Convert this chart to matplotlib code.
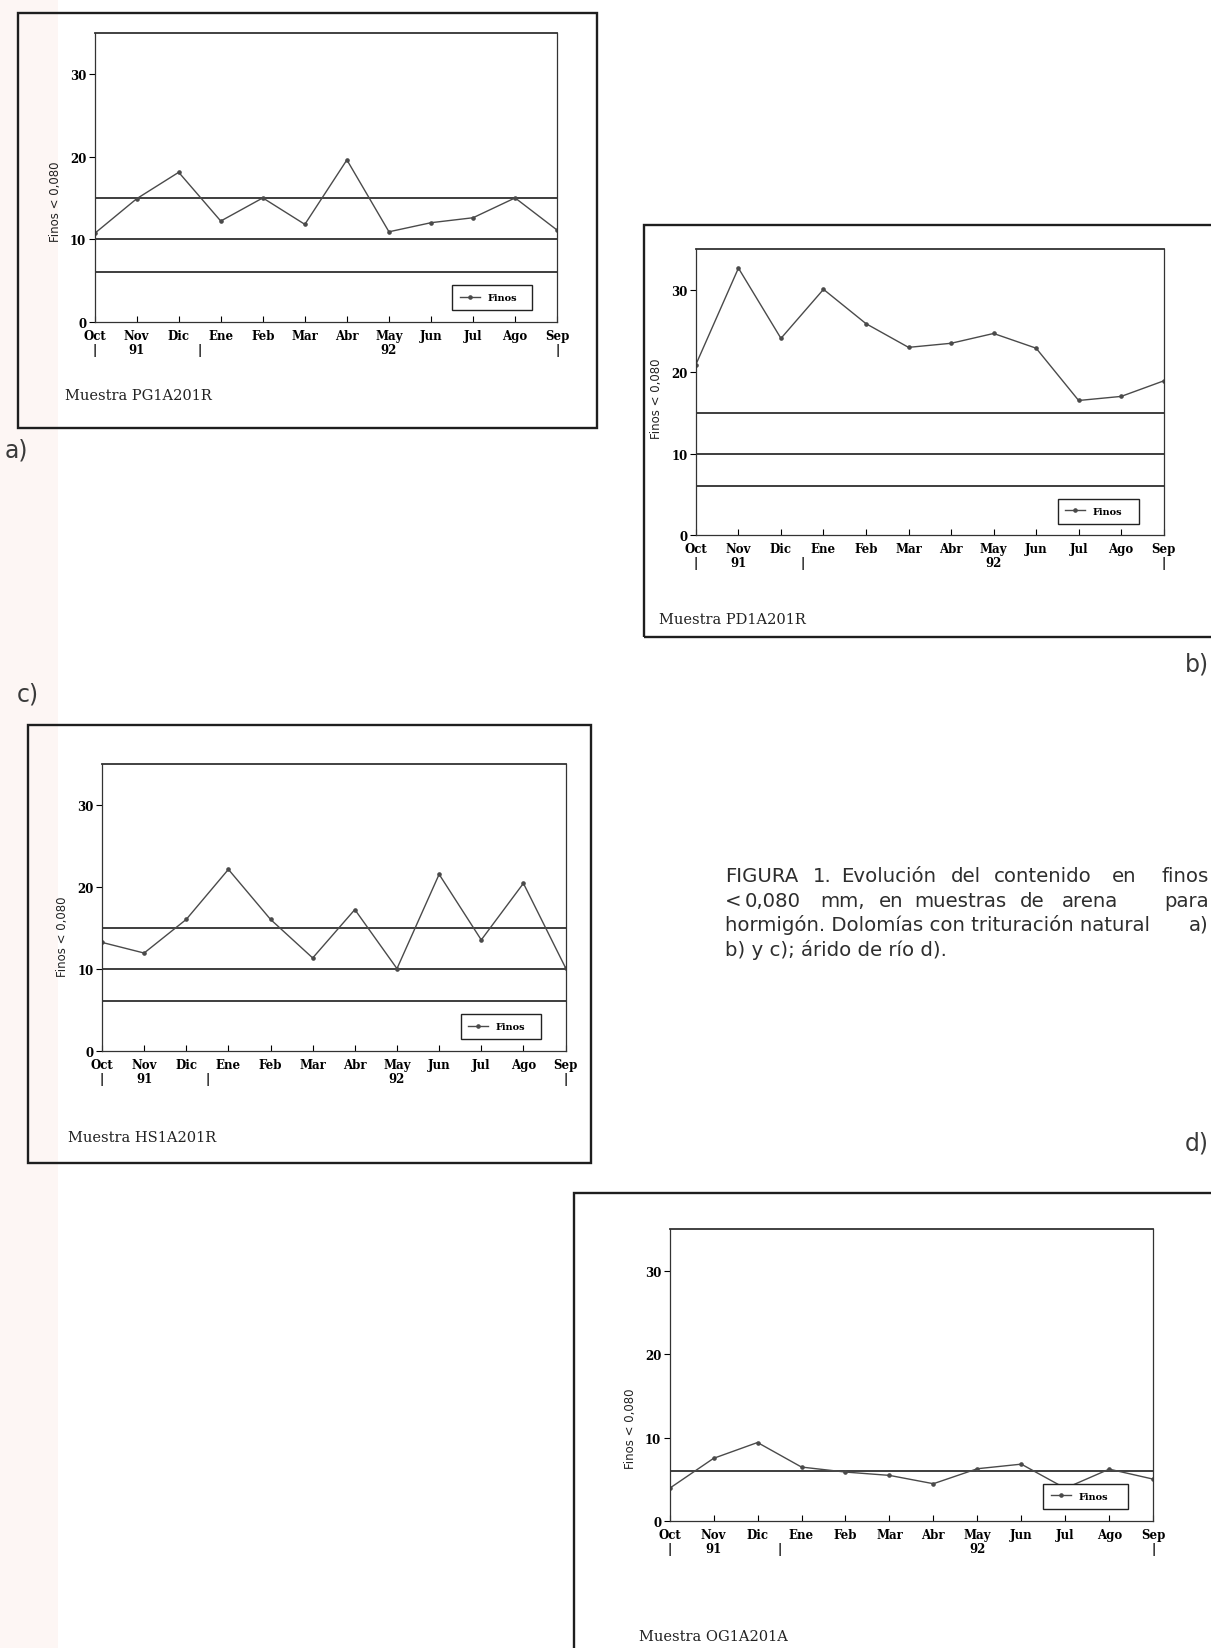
import matplotlib as mpl
from matplotlib import pyplot as plt
from matplotlib.patches import Rectangle
from matplotlib.transforms import ScaledTranslation


months = ["Oct", "Nov", "Dic", "Ene", "Feb", "Mar", "Abr", "May", "Jun", "Jul", "Ago", "Sep"]
second_row = ["|", "91", "", "", "", "", "", "92", "", "", "", "|"]

finos_a = [10.7, 14.9, 18.1, 12.2, 15.0, 11.8, 19.6, 10.9, 12.0, 12.6, 15.0, 11.1]
finos_b = [20.9, 32.7, 24.1, 30.1, 25.9, 23.0, 23.5, 24.7, 22.9, 16.5, 17.0, 18.9]
finos_c = [13.2, 11.9, 16.0, 22.1, 16.0, 11.3, 17.2, 10.0, 21.5, 13.5, 20.4, 10.1]
finos_d = [3.9, 7.5, 9.4, 6.45, 5.85, 5.45, 4.45, 6.25, 6.8, 3.9, 6.2, 5.0]

limits_abc = [15, 10, 6]
limits_d = [6]

muestras = ["Muestra PG1A201R", "Muestra PD1A201R", "Muestra HS1A201R", "Muestra OG1A201A"]

caption_1 = ["FIGURA", "1.", "Evolución", "del", "contenido", "en", "finos"]
caption_2 = ["<", "0,080", "mm,", "en", "muestras", "de", "arena", "para"]
caption_3 = ["hormigón. Dolomías con trituración natural", "a)"]
caption_4 = "b) y c); árido de río d)."

# layout measured on the reference (pixel grid 1152 x 1568)
W, H = 1152.0, 1568.0


def fx(x):
    return x / W


def fy(y):
    return 1 - y / H


serif_bold = dict(family="DejaVu Serif", weight="bold", size=8.5)

fig = plt.figure(figsize=(12.11, 16.49), dpi=100)
fig.patch.set_facecolor("white")

# faint tint along the left margin of the scan
fig.add_artist(Rectangle((0, 0), fx(55), 1, transform=fig.transFigure,
                         fc="#fdf6f4", ec="none", zorder=0))


def panel(frame, axbox, finos, limits, muestra, muestra_xy, ylab_y):
    l, t, r, b = frame
    fig.add_artist(Rectangle((fx(l), fy(b)), fx(r - l), (b - t) / H,
                             transform=fig.transFigure, fill=False,
                             lw=1.7, ec="#1e1e1e", zorder=1))
    al, at, ar, ab = axbox
    ax = fig.add_axes([fx(al), fy(ab), fx(ar - al), (ab - at) / H])
    ax.set_facecolor("none")
    x = list(range(len(months)))
    for v in limits:
        ax.axhline(v, color="#1e1e1e", lw=1.2, zorder=1)
    ax.plot(x, finos, color="#4a4a4a", lw=1.0, marker="o", ms=2.3,
            label="Finos", zorder=2)
    ax.set_xlim(0, 11)
    ax.set_ylim(0, 35)
    ax.set_yticks([0, 10, 20, 30])
    ax.set_yticklabels(["0", "10", "20", "30"], fontdict=serif_bold)
    zero = ax.get_yticklabels()[0]
    zero.set_transform(zero.get_transform() + ScaledTranslation(0, 2 / 72, fig.dpi_scale_trans))
    ax.set_xticks(x)
    ax.set_xticklabels([m + "\n" + s for m, s in zip(months, second_row)],
                       fontdict=serif_bold, linespacing=1.1)
    ax.set_xticks([2.5], minor=True)
    ax.set_xticklabels(["\n|"], minor=True, fontdict=serif_bold, linespacing=1.1)
    ax.tick_params(axis="x", which="major", direction="in", length=4, width=0.8, pad=5)
    ax.tick_params(axis="x", which="minor", length=0, pad=5)
    ax.tick_params(axis="y", direction="out", length=4, width=0.8, pad=2)
    for s in ax.spines.values():
        s.set_linewidth(0.9)
        s.set_color("#333333")
    ax.spines["top"].set_linewidth(1.3)
    ax.set_ylabel("Finos < 0,080", family="DejaVu Sans", size=8.5, color="#222")
    ax.yaxis.set_label_coords(-31 / (ar - al), ylab_y)
    leg = ax.legend(loc="center", bbox_to_anchor=(0.763, 0.03, 0.194, 0.108),
                    mode="expand", fancybox=False, edgecolor="#222",
                    framealpha=1, handlelength=2.0, borderpad=0.8,
                    prop=dict(family="DejaVu Serif", weight="bold", size=7))
    leg.get_frame().set_linewidth(1.0)
    leg.set_zorder(5)
    fig.text(fx(muestra_xy[0]), fy(muestra_xy[1]), muestra, family="DejaVu Serif",
             size=10.5, color="#222", va="center", ha="left")
    return ax


panel((17, 13, 568, 408), (90, 32, 530, 307), finos_a, limits_abc,
      muestras[0], (62, 377), 0.42)
panel((613, 215, 1175, 607), (662, 238, 1107, 510), finos_b, limits_abc,
      muestras[1], (627, 590), 0.48)
panel((27, 690, 562, 1107), (97, 727, 538, 1000), finos_c, limits_abc,
      muestras[2], (65, 1082), 0.40)
panel((546, 1135, 1175, 1600), (637, 1170, 1097, 1447), finos_d, limits_d,
      muestras[3], (608, 1557), 0.32)

# panel letters
letter = dict(family="DejaVu Sans", size=17, color="#3a3a3a", va="center")
fig.text(fx(4), fy(428), "a)", **letter)
fig.text(0.998, fy(632), "b)", ha="right", **letter)
fig.text(fx(16), fy(660), "c)", **letter)
fig.text(0.998, fy(1087), "d)", ha="right", **letter)

# caption, justified lines set word by word
cap = dict(family="DejaVu Sans", size=14.2, color="#2e2e2e", va="center")
x1 = [690, 773, 800, 905, 945, 1058]
for w, xx in zip(caption_1[:-1], x1):
    fig.text(fx(xx), fy(833), w, **cap)
fig.text(0.998, fy(833), caption_1[-1], ha="right", **cap)
x2 = [690, 708, 780, 836, 870, 970, 1010]
for w, xx in zip(caption_2[:-1], x2):
    fig.text(fx(xx), fy(857), w, **cap)
fig.text(0.998, fy(857), caption_2[-1], ha="right", **cap)
fig.text(fx(690), fy(880), caption_3[0], **cap)
fig.text(0.998, fy(880), caption_3[1], ha="right", **cap)
fig.text(fx(690), fy(903), caption_4, **cap)

plt.savefig("out.png", dpi=100)
